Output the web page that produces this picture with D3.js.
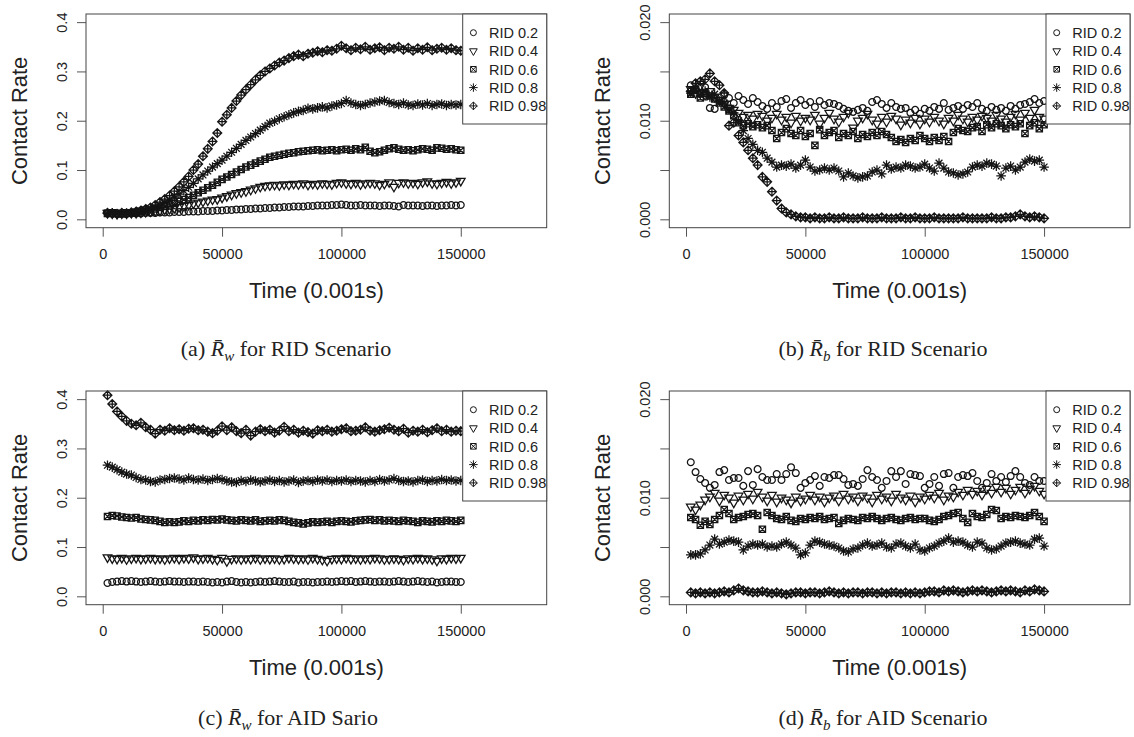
<!DOCTYPE html>
<html><head><meta charset="utf-8">
<script src="https://cdn.jsdelivr.net/npm/d3@7/dist/d3.min.js"></script>
<style>body{margin:0;background:#fff}</style>
</head><body>
<svg id="chart" width="1134" height="737"></svg>
<script>
// ---------- DATA ----------
const timeSteps = [2000,4000,6000,8000,10000,12000,14000,16000,18000,20000,
  22000,24000,26000,28000,30000,32000,34000,36000,38000,40000,
  42000,44000,46000,48000,50000,52000,54000,56000,58000,60000,
  62000,64000,66000,68000,70000,72000,74000,76000,78000,80000,
  82000,84000,86000,88000,90000,92000,94000,96000,98000,100000,
  102000,104000,106000,108000,110000,112000,114000,116000,118000,120000,
  122000,124000,126000,128000,130000,132000,134000,136000,138000,140000,
  142000,144000,146000,148000,150000];

const seriesLabels = ["RID 0.2", "RID 0.4", "RID 0.6", "RID 0.8", "RID 0.98"];
const seriesShapes = ["circle", "triDown", "squareX", "asterisk", "diamondPlus"];

const xTicks = [0, 50000, 100000, 150000];
const xTickLabels = ["0", "50000", "100000", "150000"];
const yTicksW = [0, 0.1, 0.2, 0.3, 0.4];
const yTickLabelsW = ["0.0", "0.1", "0.2", "0.3", "0.4"];
const yTicksB = [0, 0.005, 0.010, 0.015, 0.020];
const yTickLabelsB = ["0.000", "", "0.010", "", "0.020"];

const xTitle = "Time (0.001s)";
const yTitle = "Contact Rate";
const captionLetters = ["(a) ", "(b) ", "(c) ", "(d) "];
const captionSubs = ["w", "b", "w", "b"];
const captionRests = [" for RID Scenario", " for RID Scenario", " for AID Sario", " for AID Scenario"];

// (a) R_w, RID scenario
const rwRid02 = [0.012,0.012,0.011,0.012,0.011, 0.012,0.012,0.012,0.013,0.013, 0.013,0.014,0.014,0.014,0.015,
  0.015,0.015,0.016,0.016,0.016, 0.017,0.017,0.017,0.018,0.018, 0.019,0.019,0.020,0.020,0.021,
  0.021,0.022,0.022,0.023,0.023, 0.024,0.024,0.025,0.025,0.026, 0.026,0.026,0.027,0.027,0.028,
  0.028,0.028,0.029,0.029,0.030, 0.029,0.028,0.028,0.029,0.028, 0.028,0.028,0.027,0.028,0.028,
  0.027,0.026,0.029,0.028,0.028, 0.028,0.027,0.028,0.028,0.027, 0.028,0.028,0.029,0.028,0.029];
const rwRid04 = [0.013,0.012,0.011,0.012,0.012, 0.013,0.013,0.014,0.015,0.016, 0.017,0.018,0.020,0.021,0.023,
  0.025,0.027,0.029,0.032,0.034, 0.036,0.038,0.040,0.041,0.044, 0.047,0.050,0.053,0.055,0.057,
  0.060,0.063,0.066,0.068,0.069, 0.070,0.069,0.071,0.070,0.072, 0.071,0.073,0.070,0.072,0.071,
  0.073,0.072,0.071,0.074,0.075, 0.073,0.072,0.074,0.071,0.073, 0.074,0.073,0.070,0.072,0.075,
  0.066,0.074,0.075,0.073,0.074, 0.072,0.075,0.077,0.073,0.072, 0.074,0.076,0.073,0.075,0.078];
const rwRid06 = [0.012,0.013,0.012,0.011,0.013, 0.013,0.014,0.016,0.017,0.019, 0.021,0.024,0.026,0.029,0.032,
  0.036,0.040,0.044,0.049,0.054, 0.059,0.064,0.069,0.075,0.081, 0.086,0.091,0.096,0.101,0.106,
  0.110,0.114,0.118,0.122,0.126, 0.128,0.130,0.132,0.134,0.135, 0.137,0.138,0.139,0.140,0.141,
  0.139,0.140,0.141,0.139,0.141, 0.142,0.140,0.143,0.141,0.146, 0.138,0.135,0.137,0.140,0.143,
  0.145,0.142,0.140,0.141,0.139, 0.141,0.143,0.142,0.140,0.145, 0.144,0.142,0.143,0.141,0.140];
const rwRid08 = [0.012,0.013,0.011,0.012,0.012, 0.013,0.015,0.017,0.019,0.022, 0.025,0.029,0.034,0.039,0.045,
  0.051,0.058,0.065,0.073,0.082, 0.090,0.098,0.106,0.113,0.120, 0.128,0.136,0.144,0.152,0.160,
  0.167,0.174,0.181,0.188,0.195, 0.199,0.204,0.208,0.212,0.216, 0.219,0.221,0.225,0.224,0.226,
  0.228,0.226,0.230,0.232,0.235, 0.241,0.236,0.233,0.231,0.233, 0.236,0.238,0.240,0.241,0.237,
  0.235,0.233,0.236,0.232,0.231, 0.234,0.232,0.235,0.231,0.233, 0.234,0.231,0.233,0.232,0.233];
const rwRid098 = [0.013,0.012,0.011,0.013,0.012, 0.014,0.016,0.018,0.021,0.024, 0.029,0.035,0.041,0.048,0.057,
  0.066,0.076,0.087,0.100,0.112, 0.128,0.143,0.158,0.175,0.198, 0.212,0.226,0.240,0.252,0.263,
  0.273,0.283,0.292,0.300,0.306, 0.312,0.318,0.322,0.327,0.331, 0.334,0.331,0.336,0.338,0.341,
  0.339,0.343,0.342,0.346,0.352, 0.347,0.343,0.348,0.345,0.350, 0.344,0.347,0.349,0.343,0.348,
  0.346,0.350,0.344,0.348,0.342, 0.347,0.344,0.349,0.343,0.346, 0.348,0.344,0.347,0.343,0.342];

// (b) R_b, RID scenario
const rbRid02 = [0.0136,0.0132,0.0128,0.0134,0.0113, 0.0112,0.0120,0.0126,0.0123,0.0118, 0.0125,0.0121,0.0117,0.0123,0.0119,
  0.0115,0.0112,0.0118,0.0114,0.0120, 0.0122,0.0113,0.0118,0.0121,0.0116, 0.0119,0.0114,0.0120,0.0116,0.0118,
  0.0117,0.0115,0.0112,0.0110,0.0109, 0.0111,0.0113,0.0110,0.0119,0.0121, 0.0117,0.0113,0.0118,0.0114,0.0112,
  0.0113,0.0108,0.0111,0.0107,0.0112, 0.0110,0.0114,0.0112,0.0118,0.0111, 0.0113,0.0115,0.0112,0.0116,0.0114,
  0.0118,0.0112,0.0110,0.0114,0.0111, 0.0113,0.0110,0.0115,0.0112,0.0116, 0.0117,0.0119,0.0122,0.0118,0.0120];
const rbRid04 = [0.0132,0.0128,0.0135,0.0126,0.0130, 0.0124,0.0121,0.0117,0.0113,0.0111, 0.0108,0.0104,0.0106,0.0102,0.0107,
  0.0105,0.0100,0.0103,0.0107,0.0101, 0.0104,0.0098,0.0105,0.0100,0.0103, 0.0101,0.0106,0.0097,0.0103,0.0108,
  0.0102,0.0099,0.0104,0.0108,0.0093, 0.0100,0.0103,0.0107,0.0101,0.0097, 0.0104,0.0099,0.0105,0.0102,0.0096,
  0.0101,0.0098,0.0103,0.0097,0.0102, 0.0099,0.0104,0.0100,0.0097,0.0103, 0.0100,0.0106,0.0102,0.0099,0.0104,
  0.0101,0.0105,0.0103,0.0100,0.0106, 0.0102,0.0099,0.0104,0.0107,0.0101, 0.0108,0.0103,0.0111,0.0104,0.0102];
const rbRid06 = [0.0127,0.0131,0.0123,0.0128,0.0125, 0.0122,0.0118,0.0114,0.0110,0.0105, 0.0098,0.0095,0.0097,0.0094,0.0096,
  0.0093,0.0095,0.0090,0.0082,0.0088, 0.0092,0.0087,0.0085,0.0090,0.0084, 0.0087,0.0075,0.0091,0.0085,0.0088,
  0.0090,0.0083,0.0087,0.0085,0.0089, 0.0082,0.0086,0.0084,0.0088,0.0085, 0.0089,0.0086,0.0083,0.0079,0.0081,
  0.0078,0.0082,0.0080,0.0085,0.0082, 0.0079,0.0083,0.0080,0.0084,0.0079, 0.0088,0.0092,0.0090,0.0089,0.0093,
  0.0094,0.0089,0.0096,0.0093,0.0097, 0.0095,0.0092,0.0096,0.0094,0.0097, 0.0087,0.0095,0.0098,0.0092,0.0096];
const rbRid08 = [0.0128,0.0132,0.0126,0.0130,0.0124, 0.0127,0.0120,0.0118,0.0112,0.0108, 0.0100,0.0090,0.0082,0.0076,0.0070,
  0.0068,0.0062,0.0058,0.0053,0.0055, 0.0054,0.0056,0.0052,0.0055,0.0060, 0.0053,0.0049,0.0050,0.0052,0.0050,
  0.0052,0.0049,0.0043,0.0047,0.0044, 0.0042,0.0043,0.0044,0.0048,0.0050, 0.0046,0.0055,0.0051,0.0053,0.0052,
  0.0055,0.0054,0.0052,0.0053,0.0056, 0.0052,0.0049,0.0057,0.0052,0.0048, 0.0047,0.0045,0.0046,0.0048,0.0053,
  0.0055,0.0054,0.0057,0.0056,0.0054, 0.0044,0.0052,0.0054,0.0050,0.0053, 0.0058,0.0061,0.0059,0.0060,0.0053];
const rbRid098 = [0.0130,0.0138,0.0140,0.0142,0.0148, 0.0140,0.0136,0.0128,0.0095,0.0098, 0.0085,0.0078,0.0070,0.0062,0.0055,
  0.0043,0.0038,0.0028,0.0019,0.0011, 0.0007,0.0005,0.0003,0.0002,0.0002, 0.0001,0.0002,0.0001,0.0001,0.0002,
  0.0001,0.0001,0.0002,0.0001,0.0001, 0.0001,0.0002,0.0001,0.0001,0.0001, 0.0002,0.0001,0.0001,0.0001,0.0002,
  0.0001,0.0001,0.0002,0.0001,0.0001, 0.0001,0.0002,0.0001,0.0001,0.0001, 0.0001,0.0001,0.0002,0.0001,0.0001,
  0.0001,0.0001,0.0001,0.0002,0.0001, 0.0001,0.0002,0.0002,0.0003,0.0005, 0.0003,0.0002,0.0003,0.0002,0.0001];

// (c) R_w, AID scenario
const rwAid02 = [0.027,0.029,0.030,0.031,0.030, 0.031,0.030,0.029,0.030,0.031, 0.030,0.029,0.030,0.031,0.030,
  0.030,0.029,0.030,0.030,0.029, 0.030,0.029,0.028,0.029,0.028, 0.030,0.031,0.029,0.028,0.029,
  0.028,0.029,0.030,0.029,0.030, 0.031,0.030,0.029,0.029,0.030, 0.028,0.029,0.029,0.028,0.029,
  0.029,0.030,0.029,0.030,0.031, 0.030,0.031,0.029,0.030,0.031, 0.030,0.029,0.030,0.030,0.029,
  0.030,0.031,0.030,0.029,0.030, 0.031,0.030,0.029,0.030,0.028, 0.029,0.030,0.030,0.029,0.029];
const rwAid04 = [0.079,0.077,0.076,0.078,0.075, 0.077,0.078,0.076,0.077,0.078, 0.076,0.077,0.075,0.077,0.078,
  0.076,0.078,0.077,0.079,0.076, 0.077,0.078,0.076,0.074,0.078, 0.071,0.076,0.077,0.075,0.077,
  0.076,0.078,0.075,0.077,0.076, 0.077,0.075,0.076,0.078,0.077, 0.076,0.077,0.075,0.078,0.076,
  0.074,0.072,0.076,0.077,0.076, 0.078,0.076,0.077,0.075,0.077, 0.076,0.078,0.077,0.075,0.076,
  0.077,0.076,0.074,0.077,0.076, 0.078,0.076,0.077,0.075,0.072, 0.077,0.076,0.078,0.077,0.078];
const rwAid06 = [0.162,0.164,0.163,0.161,0.160, 0.159,0.160,0.157,0.156,0.155, 0.154,0.152,0.150,0.151,0.150,
  0.151,0.153,0.152,0.154,0.153, 0.155,0.154,0.156,0.155,0.157, 0.155,0.154,0.153,0.155,0.154,
  0.153,0.155,0.152,0.153,0.154, 0.153,0.155,0.154,0.152,0.150, 0.149,0.147,0.149,0.151,0.150,
  0.151,0.152,0.150,0.152,0.153, 0.152,0.151,0.153,0.154,0.155, 0.156,0.154,0.155,0.153,0.154,
  0.153,0.152,0.154,0.153,0.152, 0.150,0.153,0.152,0.151,0.153, 0.152,0.154,0.153,0.152,0.154];
const rwAid08 = [0.266,0.262,0.257,0.252,0.248, 0.246,0.241,0.237,0.236,0.233, 0.232,0.236,0.237,0.239,0.240,
  0.238,0.236,0.240,0.237,0.236, 0.238,0.235,0.237,0.239,0.237, 0.234,0.232,0.231,0.235,0.233,
  0.236,0.234,0.232,0.234,0.236, 0.233,0.235,0.232,0.234,0.236, 0.231,0.234,0.235,0.233,0.236,
  0.234,0.236,0.233,0.235,0.234, 0.236,0.233,0.235,0.234,0.232, 0.235,0.233,0.237,0.234,0.236,
  0.239,0.235,0.233,0.234,0.232, 0.235,0.236,0.233,0.235,0.234, 0.237,0.235,0.236,0.234,0.235];
const rwAid098 = [0.408,0.390,0.375,0.365,0.356, 0.350,0.347,0.352,0.343,0.338, 0.330,0.338,0.336,0.341,0.337,
  0.339,0.336,0.340,0.341,0.337, 0.338,0.334,0.331,0.336,0.345, 0.337,0.343,0.335,0.331,0.338,
  0.326,0.334,0.339,0.335,0.338, 0.332,0.336,0.344,0.335,0.338, 0.332,0.336,0.333,0.330,0.337,
  0.335,0.338,0.334,0.336,0.339, 0.341,0.335,0.336,0.338,0.343, 0.336,0.334,0.337,0.339,0.342,
  0.338,0.335,0.340,0.332,0.336, 0.334,0.338,0.333,0.337,0.341, 0.335,0.338,0.334,0.336,0.335];

// (d) R_b, AID scenario
const rbAid02 = [0.0136,0.0126,0.0119,0.0115,0.0110, 0.0113,0.0126,0.0128,0.0118,0.0120, 0.0120,0.0112,0.0127,0.0113,0.0129,
  0.0121,0.0118,0.0118,0.0124,0.0118, 0.0124,0.0131,0.0125,0.0110,0.0115, 0.0118,0.0122,0.0112,0.0121,0.0120,
  0.0123,0.0123,0.0119,0.0113,0.0114, 0.0112,0.0119,0.0128,0.0121,0.0118, 0.0110,0.0117,0.0127,0.0121,0.0127,
  0.0114,0.0124,0.0123,0.0122,0.0110, 0.0114,0.0121,0.0112,0.0124,0.0125, 0.0110,0.0121,0.0123,0.0122,0.0125,
  0.0117,0.0110,0.0115,0.0124,0.0117, 0.0121,0.0116,0.0122,0.0127,0.0121, 0.0115,0.0113,0.0121,0.0117,0.0117];
const rbAid04 = [0.0091,0.0088,0.0093,0.0098,0.0101, 0.0105,0.0097,0.0103,0.0100,0.0095, 0.0102,0.0098,0.0104,0.0099,0.0106,
  0.0101,0.0097,0.0103,0.0096,0.0100, 0.0098,0.0095,0.0101,0.0097,0.0099, 0.0103,0.0098,0.0101,0.0096,0.0100,
  0.0102,0.0097,0.0104,0.0099,0.0101, 0.0097,0.0102,0.0100,0.0096,0.0103, 0.0099,0.0101,0.0097,0.0104,0.0100,
  0.0098,0.0102,0.0096,0.0101,0.0099, 0.0103,0.0100,0.0105,0.0098,0.0102, 0.0101,0.0106,0.0103,0.0108,0.0104,
  0.0107,0.0103,0.0109,0.0105,0.0111, 0.0106,0.0110,0.0104,0.0108,0.0111, 0.0105,0.0109,0.0112,0.0107,0.0104];
const rbAid06 = [0.0080,0.0078,0.0072,0.0076,0.0073, 0.0078,0.0082,0.0088,0.0084,0.0078, 0.0080,0.0081,0.0083,0.0084,0.0082,
  0.0068,0.0085,0.0082,0.0079,0.0078, 0.0081,0.0077,0.0076,0.0079,0.0078, 0.0080,0.0079,0.0081,0.0078,0.0079,
  0.0080,0.0074,0.0077,0.0079,0.0078, 0.0077,0.0080,0.0079,0.0081,0.0079, 0.0077,0.0079,0.0080,0.0078,0.0077,
  0.0079,0.0080,0.0078,0.0079,0.0079, 0.0077,0.0076,0.0078,0.0081,0.0082, 0.0084,0.0085,0.0079,0.0075,0.0084,
  0.0081,0.0080,0.0083,0.0088,0.0087, 0.0079,0.0081,0.0080,0.0082,0.0081, 0.0080,0.0082,0.0085,0.0081,0.0076];
const rbAid08 = [0.0042,0.0042,0.0043,0.0047,0.0052, 0.0058,0.0053,0.0055,0.0057,0.0056, 0.0055,0.0047,0.0051,0.0053,0.0052,
  0.0053,0.0050,0.0051,0.0050,0.0053, 0.0055,0.0052,0.0049,0.0042,0.0044, 0.0052,0.0056,0.0055,0.0053,0.0052,
  0.0051,0.0049,0.0046,0.0045,0.0048, 0.0049,0.0052,0.0054,0.0051,0.0052, 0.0054,0.0050,0.0049,0.0053,0.0054,
  0.0051,0.0049,0.0053,0.0047,0.0046, 0.0049,0.0051,0.0054,0.0056,0.0059, 0.0055,0.0056,0.0055,0.0052,0.0050,
  0.0055,0.0054,0.0049,0.0047,0.0048, 0.0051,0.0054,0.0055,0.0056,0.0054, 0.0053,0.0052,0.0058,0.0059,0.0051];
const rbAid098 = [0.0004,0.0003,0.0004,0.0003,0.0004, 0.0003,0.0004,0.0005,0.0004,0.0006, 0.0008,0.0006,0.0005,0.0004,0.0004,
  0.0005,0.0004,0.0003,0.0004,0.0003, 0.0002,0.0003,0.0004,0.0004,0.0003, 0.0004,0.0004,0.0003,0.0004,0.0005,
  0.0004,0.0003,0.0004,0.0003,0.0004, 0.0004,0.0003,0.0004,0.0004,0.0003, 0.0004,0.0003,0.0004,0.0004,0.0003,
  0.0004,0.0003,0.0004,0.0003,0.0004, 0.0005,0.0005,0.0004,0.0006,0.0005, 0.0006,0.0005,0.0004,0.0005,0.0006,
  0.0005,0.0006,0.0005,0.0004,0.0005, 0.0006,0.0005,0.0006,0.0005,0.0004, 0.0006,0.0005,0.0007,0.0006,0.0005];

// ---------- LAYOUT ----------
const svg = d3.select("#chart");
const SANS = "'Liberation Sans', Arial, Helvetica, sans-serif";
const SERIF = "'Liberation Serif', 'Times New Roman', serif";
const INK = "#141414";

const panels = [
  {left: 86, top: 14, yDomain: [-0.017, 0.4165], ticks: yTicksW, labels: yTickLabelsW,
   series: [rwRid02, rwRid04, rwRid06, rwRid08, rwRid098], capX: 286, capY: 356},
  {left: 669.3, top: 14, yDomain: [-0.00085, 0.020825], ticks: yTicksB, labels: yTickLabelsB,
   series: [rbRid02, rbRid04, rbRid06, rbRid08, rbRid098], capX: 883, capY: 356},
  {left: 86, top: 391, yDomain: [-0.017, 0.4165], ticks: yTicksW, labels: yTickLabelsW,
   series: [rwAid02, rwAid04, rwAid06, rwAid08, rwAid098], capX: 288, capY: 725},
  {left: 669.3, top: 391, yDomain: [-0.00085, 0.020825], ticks: yTicksB, labels: yTickLabelsB,
   series: [rbAid02, rbAid04, rbAid06, rbAid08, rbAid098], capX: 883, capY: 725}
];
const boxW = 460.7, boxH = 213.7;

function markerPath(shape, R) {
  switch (shape) {
    case "circle": return `M${-R},0a${R},${R} 0 1,0 ${2*R},0a${R},${R} 0 1,0 ${-2*R},0Z`;
    case "triDown": { const r = 1.555*R*0.95, yc = r/2, xc = r*0.866;
      return `M${-xc},${-yc}L${xc},${-yc}L0,${r}Z`; }
    case "squareX": { const h = 0.886*R*1.05;
      return `M${-h},${-h}H${h}V${h}H${-h}Z M${-h},${-h}L${h},${h} M${-h},${h}L${h},${-h}`; }
    case "asterisk": { const a = 1.414*R, d = R;
      return `M${-a},0H${a} M0,${-a}V${a} M${-d},${-d}L${d},${d} M${-d},${d}L${d},${-d}`; }
    case "diamondPlus": { const h = 1.3*R;
      return `M0,${-h}L${h},0L0,${h}L${-h},0Z M${-h},0H${h} M0,${-h}V${h}`; }
  }
}

panels.forEach((p, pi) => {
  const g = svg.append("g");
  const x = d3.scaleLinear().domain([-7000, 186000]).range([p.left, p.left + boxW]);
  const y = d3.scaleLinear().domain(p.yDomain).range([p.top + boxH, p.top]);

  // points
  p.series.forEach((vals, si) => {
    g.append("g").selectAll("path")
      .data(vals.map((v, i) => [timeSteps[i], v]))
      .join("path")
      .attr("transform", d => `translate(${x(d[0])},${y(d[1])})`)
      .attr("d", markerPath(seriesShapes[si], 3.4))
      .attr("fill", "none")
      .attr("stroke", INK)
      .attr("stroke-width", 1.25);
  });

  // x axis
  const xa = g.append("g").attr("transform", `translate(0,${p.top + boxH})`)
    .call(d3.axisBottom(x).tickValues(xTicks).tickFormat((d, i) => xTickLabels[i])
      .tickSize(9).tickPadding(12));
  xa.select(".domain").remove();
  xa.selectAll("line").attr("stroke", "#555");
  xa.selectAll("text").attr("font-family", SANS).attr("font-size", "14.5px").attr("fill", "#222");

  // y axis
  const ya = g.append("g").attr("transform", `translate(${p.left},0)`)
    .call(d3.axisLeft(y).tickValues(p.ticks).tickFormat((d, i) => p.labels[i]).tickSize(9));
  ya.select(".domain").remove();
  ya.selectAll("line").attr("stroke", "#555");
  ya.selectAll("text")
    .attr("x", null).attr("dy", "0.35em")
    .attr("transform", "translate(-24,0) rotate(-90)")
    .attr("text-anchor", "middle")
    .attr("font-family", SANS).attr("font-size", "14.5px").attr("fill", "#222");

  // box
  g.append("rect").attr("x", p.left).attr("y", p.top).attr("width", boxW).attr("height", boxH)
    .attr("fill", "none").attr("stroke", "#444").attr("stroke-width", 1);

  // legend
  const lx = p.left + boxW - 84, ly = p.top;
  const lg = g.append("g");
  lg.append("rect").attr("x", lx).attr("y", ly).attr("width", 84).attr("height", 110)
    .attr("fill", "#fff").attr("stroke", "#444").attr("stroke-width", 1);
  seriesLabels.forEach((lab, si) => {
    const yy = ly + 18.7 + si * 18.3;
    lg.append("path").attr("transform", `translate(${lx + 10.7},${yy})`)
      .attr("d", markerPath(seriesShapes[si], 3)).attr("fill", "none")
      .attr("stroke", INK).attr("stroke-width", 1);
    lg.append("text").attr("x", lx + 26.3).attr("y", yy).attr("dy", "0.36em")
      .attr("font-family", SANS).attr("font-size", "14.5px").attr("fill", "#222").text(lab);
  });

  // axis titles
  g.append("text").attr("x", p.left + boxW / 2).attr("y", p.top + 284)
    .attr("text-anchor", "middle").attr("font-family", SANS).attr("font-size", "22px")
    .attr("fill", "#222").text(xTitle);
  g.append("text")
    .attr("transform", `translate(${p.left - 59},${p.top + boxH / 2}) rotate(-90)`)
    .attr("text-anchor", "middle").attr("font-family", SANS).attr("font-size", "22px")
    .attr("fill", "#222").text(yTitle);

  // caption
  const cap = g.append("text").attr("x", p.capX).attr("y", p.capY).attr("text-anchor", "middle")
    .attr("font-family", SERIF).attr("font-size", "22px").attr("fill", "#222");
  cap.append("tspan").text(captionLetters[pi]);
  cap.append("tspan").attr("font-style", "italic").text("R\u0304");
  cap.append("tspan").attr("font-style", "italic").attr("font-size", "15px").attr("dy", 5).text(captionSubs[pi]);
  cap.append("tspan").attr("dy", -5).text(captionRests[pi]);
});
</script>
</body></html>
